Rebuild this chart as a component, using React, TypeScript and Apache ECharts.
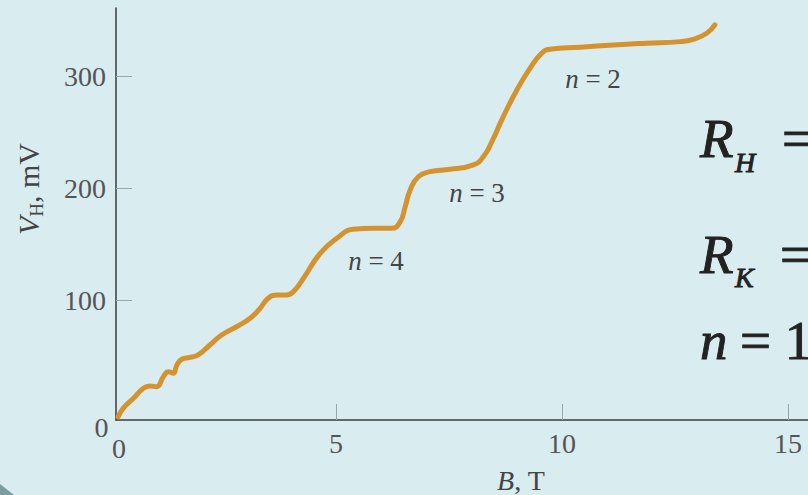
import React, { useEffect, useRef } from 'react';
import * as echarts from 'echarts';

// Hall voltage trace: magnetic field B (T) against V_H (mV)
const fieldT = [
  0.18, 0.29, 0.52, 0.74, 0.88, 1.03, 1.18, 1.29, 1.4, 1.48, 1.59, 1.77, 1.95,
  2.21, 2.47, 2.8, 3.1, 3.32, 3.5, 3.69, 3.91, 4.09, 4.3, 4.65, 5.02, 5.38,
  5.83, 6.23, 6.42, 6.53, 6.64, 6.82, 7.08, 7.52, 8.04, 8.26, 8.44, 8.7, 9.0,
  9.29, 9.55, 9.73, 10.4, 11.14, 11.87, 12.61, 12.9, 13.2, 13.38,
];
const hallMV = [
  -4, 3.7, 12.7, 21.6, 23.6, 23.0, 31.9, 36.4, 35.0, 42.4, 47.5, 49.2, 51.3,
  60.2, 69.1, 76.5, 84.0, 92.9, 101.9, 104.8, 104.8, 109.3, 121.0, 142.0, 155.4,
  163.4, 164.3, 164.3, 170.2, 183.6, 198.5, 210.3, 214.8, 216.9, 220.8, 228.2,
  241.0, 263.9, 287.7, 307.0, 320.4, 324.0, 325.8, 327.8, 329.4, 330.8, 332.9,
  338.3, 345.7,
];

const xTickValues = [5, 10, 15];
const yTickValues = [100, 200, 300];
const plateauTexts = ['n = 4', 'n = 3', 'n = 2'];

const SERIF = 'Liberation Serif';
const TICK_COLOR = '#555';
const FORMULA_COLOR = '#222';

function plainText(text: string, x: number, y: number, size: number, color: string, extra: any = {}) {
  return {
    type: 'text',
    x,
    y,
    style: {
      text,
      fontFamily: extra.family || SERIF,
      fontSize: size,
      fontStyle: extra.italic ? 'italic' : 'normal',
      fill: color,
      stroke: extra.heavy ? color : undefined,
      lineWidth: extra.heavy ? 0.9 : 0,
      align: extra.align || 'left',
      verticalAlign: 'middle',
      textAlign: extra.align || 'left',
      textVerticalAlign: 'middle',
    },
  };
}

function plateauLabel(label: string, x: number, y: number) {
  const [n, ...rest] = label.split(' ');
  return {
    type: 'text',
    x,
    y,
    style: {
      text: `{i|${n}}{r| ${rest.join(' ')}}`,
      align: 'center',
      verticalAlign: 'middle',
      textAlign: 'center',
      textVerticalAlign: 'middle',
      rich: {
        i: { fontFamily: SERIF, fontStyle: 'italic', fontSize: 27, fill: '#444', color: '#444' },
        r: { fontFamily: SERIF, fontSize: 27, fill: '#444', color: '#444' },
      },
    },
  };
}

export default function App() {
  const ref = useRef<HTMLDivElement>(null);

  useEffect(() => {
    document.body.style.margin = '0';
    if (!ref.current) return;
    const chart = echarts.init(ref.current, null, { renderer: 'svg' });

    const option: any = {
      animation: false,
      backgroundColor: '#d9ecf0',
      grid: { left: 116, right: 0, top: 8, bottom: 75, containLabel: false, outerBoundsMode: 'none' },
      xAxis: {
        type: 'value',
        min: 0.133,
        max: 15.44,
        axisLine: { show: true, onZero: false, lineStyle: { color: '#3b3b3b', width: 1.5 } },
        axisTick: {
          show: true,
          inside: true,
          length: 16,
          customValues: xTickValues,
          lineStyle: { color: '#9aa5a8', width: 1 },
        },
        axisLabel: {
          customValues: xTickValues,
          fontFamily: SERIF,
          fontSize: 28,
          color: TICK_COLOR,
          margin: 9,
        },
        splitLine: { show: false },
      },
      yAxis: {
        type: 'value',
        min: -6.7,
        max: 360.8,
        axisLine: { show: true, onZero: false, lineStyle: { color: '#3b3b3b', width: 1.5 } },
        axisTick: {
          show: true,
          inside: true,
          length: 16,
          customValues: yTickValues,
          lineStyle: { color: '#9aa5a8', width: 1 },
        },
        axisLabel: {
          customValues: yTickValues,
          fontFamily: SERIF,
          fontSize: 28,
          color: TICK_COLOR,
          margin: 10,
        },
        splitLine: { show: false },
      },
      series: [
        {
          type: 'line',
          data: fieldT.map((b, i) => [b, hallMV[i]]),
          symbol: 'none',
          showSymbol: false,
          smooth: 0.5,
          lineStyle: { color: '#d4932f', width: 5, cap: 'round', join: 'round' },
          clip: false,
        },
      ],
      graphic: [
        // origin zeros
        plainText('0', 101.5, 427, 28, TICK_COLOR, { align: 'center' }),
        plainText('0', 119, 448, 28, TICK_COLOR, { align: 'center' }),
        // axis names
        {
          type: 'text',
          x: 28,
          y: 189,
          rotation: Math.PI / 2,
          style: {
            text: '{i|V}{s|H}{n|, mV}',
            align: 'center',
            verticalAlign: 'middle',
            textAlign: 'center',
            textVerticalAlign: 'middle',
            rich: {
              i: { fontFamily: SERIF, fontStyle: 'italic', fontSize: 30, fill: '#444', lineHeight: 36, verticalAlign: 'middle' },
              s: { fontFamily: SERIF, fontSize: 19, fill: '#444', lineHeight: 36, verticalAlign: 'bottom' },
              n: { fontFamily: SERIF, fontSize: 30, fill: '#444', lineHeight: 36, verticalAlign: 'middle' },
            },
          },
        },
        {
          type: 'text',
          x: 521,
          y: 480,
          style: {
            text: '{i|B}{n|, T}',
            align: 'center',
            verticalAlign: 'middle',
            textAlign: 'center',
            textVerticalAlign: 'middle',
            rich: {
              i: { fontFamily: SERIF, fontStyle: 'italic', fontSize: 28, fill: '#444' },
              n: { fontFamily: SERIF, fontSize: 28, fill: '#444' },
            },
          },
        },
        // plateau labels
        plateauLabel(plateauTexts[0], 376, 261),
        plateauLabel(plateauTexts[1], 477, 193),
        plateauLabel(plateauTexts[2], 593, 79),
        // formulas on the right
        plainText('R', 700, 138.3, 55, FORMULA_COLOR, { italic: true, heavy: true }),
        plainText('H', 735, 162.5, 28, FORMULA_COLOR, { italic: true, heavy: true }),
        plainText('=', 782, 138.3, 55, FORMULA_COLOR, { heavy: true }),
        plainText('R', 700, 254.3, 55, FORMULA_COLOR, { italic: true, heavy: true }),
        plainText('K', 735, 277.5, 28, FORMULA_COLOR, { italic: true, heavy: true }),
        plainText('=', 780, 254.3, 55, FORMULA_COLOR, { heavy: true }),
        plainText('n', 700, 340.3, 55, FORMULA_COLOR, { italic: true, heavy: true }),
        plainText('= 1,', 740, 340.3, 55, FORMULA_COLOR, { heavy: true }),
        // caption running off the top edge
        plainText('(von Klitzing, 1980)', 133, -18.5, 34, '#e8231f'),
        // corner decoration
        {
          type: 'polygon',
          shape: { points: [[0, 484], [14, 495], [0, 495]] },
          style: { fill: '#7d9c9e' },
        },
      ],
    };

    chart.setOption(option);
    return () => chart.dispose();
  }, []);

  return <div ref={ref} style={{ width: 808, height: 495 }} />;
}
